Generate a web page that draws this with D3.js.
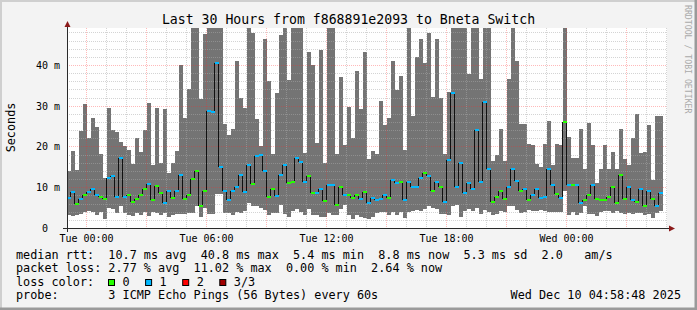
<!DOCTYPE html>
<html>
<head>
<meta charset="utf-8">
<script src="https://cdn.jsdelivr.net/npm/d3@7/dist/d3.min.js"></script>
<style>
  body { margin: 0; background: #f3f3f3; }
  svg { display: block; }
  text { font-family: "DejaVu Sans Mono", monospace; white-space: pre; fill: #000; }
</style>
</head>
<body>
<div id="chart"></div>
<script>
/* DATA */
// one column every 12 minutes, 30 hours, last column has no data yet
const smokeTop = [
  14.1, 19.0, 14.3, 23.9, 30.5, 22.2, 27.1, 24.9, 18.4, 12.3, 29.5, 24.1, 23.7, 21.2, 20.3,
  19.2, 15.9, 22.2, 18.8, 24.1, 30.7, 15.7, 29.5, 16.1, 29.3, 13.5, 16.1, 18.9, 40.0, 27.1,
  34.2, 55, 55, 31.8, 47.8, 55, 55, 55, 55, 25.7, 23.0, 24.5, 41.2, 32.0, 29.5,
  55, 48.0, 26.9, 20.3, 46.4, 36.1, 18.4, 33.3, 47.5, 55, 36.4, 55, 55, 55, 18.6,
  43.4, 40.0, 21.0, 43.9, 16.1, 55, 55, 18.4, 37.1, 20.5, 29.8, 22.2, 38.6, 29.3, 43.4,
  17.1, 19.0, 18.2, 31.2, 25.3, 27.2, 41.2, 34.0, 37.5, 19.2, 55, 27.5, 42.0, 46.4, 40.5,
  47.9, 32.2, 46.4, 32.0, 18.4, 33.4, 55, 55, 55, 55, 37.9, 55, 55, 36.8, 55,
  55, 16.5, 18.0, 24.4, 16.5, 36.8, 55, 41.2, 25.7, 25.7, 20.8, 20.6, 15.9, 15.0, 20.8,
  26.4, 15.5, 20.8, 20.5, 55, 22.5, 17.3, 17.3, 24.4, 14.6, 25.9, 20.4, 11.1, 14.6, 20.5,
  14.6, 18.8, 14.6, 24.4, 17.0, 15.7, 22.2, 28.0, 18.6, 18.8, 25.3, 12.0, 27.5, 27.5, null
];
const smokeBottom = [
  3.3, 3.1, 3.3, 3.6, 4.1, 4.3, 4.1, 3.2, 4.1, 2.4, 5.1, 4.7, 3.9, 5.4, 3.7,
  3.2, 3.0, 3.7, 3.3, 4.1, 3.1, 4.1, 3.7, 3.2, 3.9, 2.9, 3.2, 3.5, 3.6, 3.6,
  3.7, 3.7, 5.6, 2.8, 5.0, 3.5, 3.5, 8.4, 8.4, 3.7, 3.9, 3.3, 4.0, 3.7, 4.2,
  6.2, 5.4, 5.4, 5.1, 4.6, 3.3, 3.7, 3.9, 5.8, 3.5, 2.9, 4.3, 4.9, 4.1, 3.3,
  4.7, 3.2, 3.2, 2.8, 2.8, 3.7, 3.3, 3.2, 4.7, 5.7, 3.3, 2.3, 3.3, 2.8, 2.5,
  2.3, 2.9, 3.7, 4.1, 4.0, 3.2, 4.0, 3.3, 4.0, 2.5, 4.0, 4.3, 4.6, 4.3, 4.7,
  5.4, 5.0, 4.7, 3.6, 3.5, 3.2, 5.4, 5.7, 2.9, 4.3, 4.9, 4.3, 5.1, 3.6, 4.5,
  4.1, 3.4, 3.5, 4.3, 4.0, 5.6, 5.6, 4.5, 3.7, 4.1, 4.6, 4.3, 4.4, 4.5, 4.2,
  4.0, 4.0, 4.0, 4.0, 9.2, 3.2, 4.0, 3.3, 3.7, 5.4, 3.6, 3.5, 3.1, 4.0, 4.2,
  4.2, 3.9, 4.2, 3.7, 3.5, 3.9, 3.6, 3.9, 3.7, 3.3, 3.5, 2.5, 3.7, 4.2, null
];
const medianRtt = [
  7.6, 8.9, 5.9, 7.3, 8.3, 8.9, 9.6, 8.3, 7.8, 7.2, 12.5, 13.0, 7.8, 17.4, 7.8,
  8.1, 6.4, 7.2, 8.3, 9.6, 10.8, 6.9, 10.5, 8.6, 6.2, 9.1, 7.6, 9.3, 13.2, 7.3,
  8.3, 12.2, 14.1, 5.4, 9.3, 28.9, 28.6, 40.6, 15.1, 9.1, 6.9, 9.3, 10.2, 13.2, 8.9,
  15.5, 10.8, 17.9, 18.1, 14.0, 7.8, 9.6, 7.9, 13.2, 15.5, 11.1, 11.5, 17.2, 16.2, 11.3,
  13.0, 8.6, 8.6, 9.6, 6.7, 10.6, 10.6, 5.8, 10.1, 8.3, 8.3, 7.6, 8.1, 7.2, 8.9,
  6.2, 7.6, 6.9, 7.2, 8.1, 7.4, 11.8, 11.1, 11.5, 6.9, 11.5, 10.1, 10.3, 12.3, 13.5,
  13.0, 9.3, 11.3, 10.2, 6.4, 16.9, 33.2, 10.1, 16.1, 8.6, 11.1, 9.8, 24.2, 11.5, 31.1,
  14.5, 6.4, 7.8, 9.1, 7.2, 10.1, 14.6, 11.7, 9.1, 9.8, 6.9, 8.1, 9.8, 7.6, 7.8,
  14.6, 10.7, 8.4, 7.6, 26.1, 10.7, 10.7, 10.7, 6.3, 6.9, 8.3, 10.6, 7.2, 6.9, 6.9,
  7.8, 10.2, 6.2, 13.2, 7.2, 10.1, 6.9, 6.4, 9.8, 5.6, 9.1, 7.2, 5.4, 8.6, null
];
// pings lost out of 3 in each column
const lossCount = [
  1, 1, 0, 1, 0, 1, 1, 1, 0, 0, 1, 1, 1, 1, 1, 0, 0, 0, 0, 0, 1, 0, 0, 0, 1, 1, 0, 1, 1, 0,
  0, 0, 0, 0, 0, 1, 1, 1, 1, 1, 1, 1, 1, 1, 1, 1, 0, 1, 1, 1, 0, 0, 1, 1, 1, 0, 0, 1, 1, 1,
  0, 0, 1, 1, 0, 1, 1, 0, 0, 1, 0, 0, 0, 1, 0, 1, 1, 1, 1, 1, 0, 1, 1, 0, 1, 1, 1, 1, 1, 0,
  1, 0, 1, 0, 1, 1, 1, 1, 1, 1, 1, 1, 1, 1, 1, 1, 0, 0, 0, 0, 1, 1, 1, 0, 1, 0, 1, 1, 1, 1,
  1, 1, 0, 1, 0, 1, 0, 1, 1, 0, 0, 1, 0, 0, 0, 0, 0, 0, 0, 0, 1, 1, 0, 1, 0, 1, 0, 1, 1, null
];

const lossLabels = ["0", "1", "2", "3/3"];
const lossColors = ["#26ff00", "#00b8ff", "#ff0000", "#a00000"];

const yTicks = [0, 10, 20, 30, 40];
const yTickLabels = ["0  ", "10 m", "20 m", "30 m", "40 m"];

const titleText = "Last 30 Hours from f868891e2093 to Bneta Switch";
const legendRows = [
  "median rtt:  10.7 ms avg  40.8 ms max  5.4 ms min  8.8 ms now  5.3 ms sd  2.0   am/s",
  "packet loss: 2.77 % avg  11.02 % max  0.00 % min  2.64 % now",
  "loss color:",
  "probe:       3 ICMP Echo Pings (56 Bytes) every 60s"
];
const stampText = "Wed Dec 10 04:58:48 2025";

/* LAYOUT */
const width = 697, height = 310;
const plot = { left: 67, right: 667, top: 28, bottom: 228.5 };
const stepMin = 12;
const start = new Date(2025, 11, 8, 23, 1, 30);
const end = d3.timeHour.offset(start, 30);
const colTime = i => d3.timeMinute.offset(start, i * stepMin);

const x = d3.scaleTime().domain([start, end]).range([plot.left, plot.right]);
const y = d3.scaleLinear().domain([0, 49.2]).range([plot.bottom, plot.top]).clamp(true);

const svg = d3.select("#chart").append("svg")
  .attr("width", width)
  .attr("height", height);

// frame
svg.append("rect").attr("width", width).attr("height", height).attr("fill", "#f3f3f3");
svg.append("path").attr("d", `M0,${height} V0 H${width}`).attr("stroke", "#cfcfcf").attr("stroke-width", 4).attr("fill", "none");
svg.append("path").attr("d", `M${width},0 V${height} H0`).attr("stroke", "#9a9a9a").attr("stroke-width", 5).attr("fill", "none");

// canvas
svg.append("rect")
  .attr("x", plot.left).attr("y", plot.top)
  .attr("width", plot.right - plot.left).attr("height", 200.5)
  .attr("fill", "#fff");

const cols = d3.range(smokeTop.length).filter(i => smokeTop[i] != null);

// smoke
svg.append("g")
  .attr("shape-rendering", "crispEdges")
  .selectAll("rect")
  .data(cols)
  .join("rect")
  .attr("x", i => x(colTime(i)))
  .attr("width", i => x(colTime(i + 1)) - x(colTime(i)))
  .attr("y", i => Math.round(y(smokeTop[i])))
  .attr("height", i => Math.round(y(smokeBottom[i])) - Math.round(y(smokeTop[i])))
  .attr("fill", "#747474");

// grid
const majorColor = "rgba(255,40,40,0.32)";
const minorColor = "rgba(170,170,170,0.5)";
const grid = svg.append("g").attr("fill", "none").attr("stroke-dasharray", "1,1");
const hours = d3.timeHour.range(d3.timeHour.ceil(start), end);
grid.selectAll("line.vx")
  .data(hours)
  .join("line")
  .attr("x1", d => Math.floor(x(d)) + 0.5)
  .attr("x2", d => Math.floor(x(d)) + 0.5)
  .attr("y1", plot.top).attr("y2", plot.bottom)
  .attr("stroke", d => d.getHours() % 3 === 0 ? majorColor : minorColor);

const yMinor = d3.range(2, 49.2, 2);
grid.selectAll("line.hy")
  .data(yMinor)
  .join("line")
  .attr("x1", plot.left).attr("x2", plot.right)
  .attr("y1", d => Math.floor(y(d)) + 0.5)
  .attr("y2", d => Math.floor(y(d)) + 0.5)
  .attr("stroke", d => d % 10 === 0 ? majorColor : minorColor);

// median step line
const med = svg.append("g");
const steps = cols.slice(1).filter(i => medianRtt[i - 1] != null);
med.selectAll("line")
  .data(steps)
  .join("line")
  .attr("x1", i => x(colTime(i)) - 0.5)
  .attr("x2", i => x(colTime(i)) - 0.5)
  .attr("y1", i => Math.round(y(medianRtt[i - 1])))
  .attr("y2", i => Math.round(y(medianRtt[i])))
  .attr("stroke", "#111")
  .attr("stroke-width", 1);

med.selectAll("rect")
  .data(cols)
  .join("rect")
  .attr("shape-rendering", "crispEdges")
  .attr("x", i => x(colTime(i)))
  .attr("width", i => x(colTime(i + 1)) - x(colTime(i)))
  .attr("y", i => Math.round(y(medianRtt[i])) - 1)
  .attr("height", 2)
  .attr("fill", i => lossColors[lossCount[i]]);

// axes
const axisColor = "#2a2a2a";
svg.append("line")
  .attr("x1", plot.left + 0.5).attr("x2", plot.left + 0.5)
  .attr("y1", 232).attr("y2", 25)
  .attr("stroke", axisColor);
svg.append("line")
  .attr("x1", 63).attr("x2", 670)
  .attr("y1", plot.bottom).attr("y2", plot.bottom)
  .attr("stroke", axisColor);
svg.append("path")
  .attr("d", `M${plot.left + 0.5},21 L${plot.left - 2.5},27 L${plot.left + 3.5},27 Z`)
  .attr("fill", "#8b1a1a");
svg.append("path")
  .attr("d", `M675,${plot.bottom} L669,${plot.bottom - 3} L669,${plot.bottom + 3} Z`)
  .attr("fill", "#8b1a1a");

// y labels
svg.append("g")
  .selectAll("text")
  .data(yTicks)
  .join("text")
  .attr("x", 60)
  .attr("y", d => Math.floor(y(d)) + 4)
  .attr("text-anchor", "end")
  .attr("font-size", "10px")
  .text((d, i) => yTickLabels[i]);

// x labels
const fmt = d3.timeFormat("%a %H:%M");
svg.append("g")
  .selectAll("text")
  .data(hours.filter(d => d.getHours() % 6 === 0))
  .join("text")
  .attr("x", d => x(d))
  .attr("y", 241.5)
  .attr("text-anchor", "middle")
  .attr("font-size", "10px")
  .text(d => fmt(d));

// title and side texts
svg.append("text")
  .attr("x", 348.5).attr("y", 24)
  .attr("text-anchor", "middle")
  .attr("font-size", "13.2px")
  .text(titleText);

svg.append("text")
  .attr("transform", "translate(15,127.5) rotate(-90)")
  .attr("text-anchor", "middle")
  .attr("font-size", "11.8px")
  .text("Seconds");

svg.append("text")
  .attr("transform", "translate(685,5) rotate(90)")
  .attr("font-size", "8.2px")
  .style("fill", "#aaaaaa")
  .text("RRDTOOL / TOBI OETIKER");

// legend
const rowY = [258.5, 272, 285.7, 299.3];
svg.append("g")
  .selectAll("text")
  .data(legendRows)
  .join("text")
  .attr("x", 16)
  .attr("y", (d, i) => rowY[i])
  .attr("font-size", "11.8px")
  .text(d => d);

const lossItems = svg.append("g")
  .selectAll("g")
  .data(lossLabels)
  .join("g")
  .attr("transform", (d, i) => `translate(${108 + i * 37.1},0)`);
lossItems.append("rect")
  .attr("x", 0.5).attr("y", 279.5)
  .attr("width", 6).attr("height", 6)
  .attr("fill", (d, i) => lossColors[i])
  .attr("stroke", "#000");
lossItems.append("text")
  .attr("x", 14.5).attr("y", rowY[2])
  .attr("font-size", "11.8px")
  .text(d => d);

svg.append("text")
  .attr("x", 681).attr("y", rowY[3])
  .attr("text-anchor", "end")
  .attr("font-size", "11.8px")
  .text(stampText);
</script>
</body>
</html>
